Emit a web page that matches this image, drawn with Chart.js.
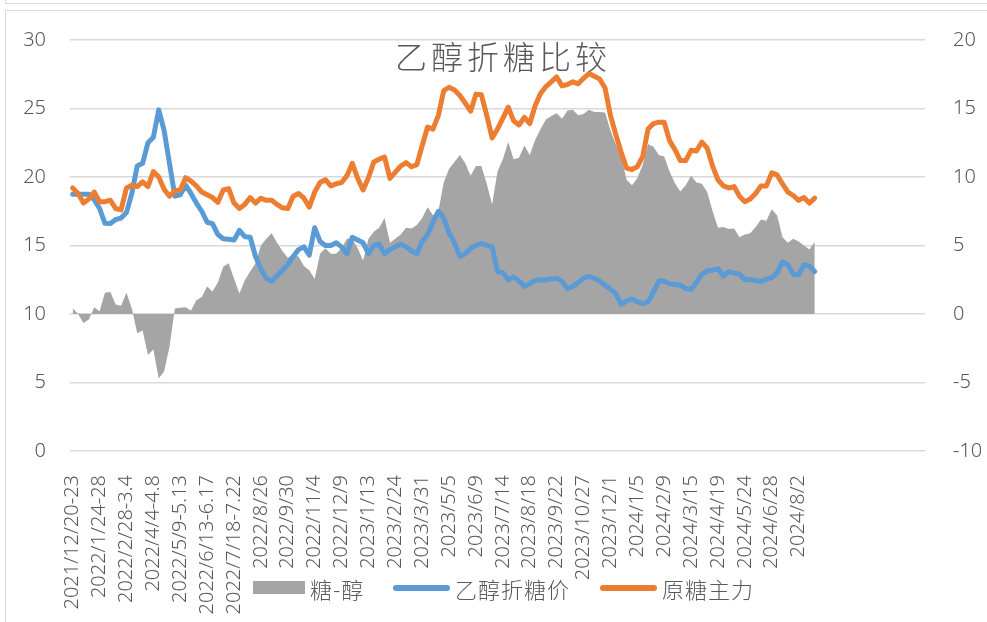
<!DOCTYPE html>
<html>
<head>
<meta charset="utf-8">
<script src="https://cdn.jsdelivr.net/npm/chart.js@4.4.1/dist/chart.umd.min.js"></script>
<style>
  body { margin: 0; background: #fff; }
  #wrap { position: relative; width: 987px; height: 622px; overflow: hidden; font-family: "Noto Sans CJK SC", "Noto Sans", sans-serif; color: #595959; }
  #frame { position: absolute; left: 5px; top: 10px; width: 1100px; height: 700px; border: 1px solid #d9d9d9; }
  #frameTop { position: absolute; left: 5px; top: -20px; width: 1100px; height: 22px; border: 1px solid #d9d9d9; }
  #title { position: absolute; left: 301px; width: 404px; top: 34px; text-align: center; font-size: 32px; font-weight: 300; line-height: 42px; letter-spacing: 4px; }
  .lg { position: absolute; }
  .lgText { position: absolute; top: 573px; font-size: 22px; font-weight: 300; line-height: 30px; letter-spacing: 1px; }
</style>
</head>
<body>
<div id="wrap">
  <div id="frameTop"></div>
  <div id="frame"></div>
  <canvas id="chart"></canvas>
  <div id="title">乙醇折糖比较</div>
  <div class="lg" style="left:253px;top:581px;width:52px;height:13px;background:#a5a5a5"></div>
  <div class="lgText" style="left:310px">糖-醇</div>
  <div class="lg" style="left:393px;top:585px;width:57px;height:6px;border-radius:3px;background:#5b9bd5"></div>
  <div class="lgText" style="left:455px">乙醇折糖价</div>
  <div class="lg" style="left:600px;top:585px;width:57px;height:6px;border-radius:3px;background:#ed7d31"></div>
  <div class="lgText" style="left:662px">原糖主力</div>
</div>
<script>
// 周度数据，每5周一个刻度标签
const tickLabels = [
  '2021/12/20-23', '2022/1/24-28', '2022/2/28-3.4', '2022/4/4-4.8', '2022/5/9-5.13',
  '2022/6/13-6.17', '2022/7/18-7.22', '2022/8/26', '2022/9/30', '2022/11/4',
  '2022/12/9', '2023/1/13', '2023/2/24', '2023/3/31', '2023/5/5', '2023/6/9',
  '2023/7/14', '2023/8/18', '2023/9/22', '2023/10/27', '2023/12/1', '2024/1/5',
  '2024/2/9', '2024/3/15', '2024/4/19', '2024/5/24', '2024/6/28', '2024/8/2'
];
const categoryCount = 159;

// 乙醇折糖价
const ethanolSugar = [
  18.74, 18.74, 18.74, 18.74, 18.35, 17.7, 16.62, 16.6, 16.9, 17.0,
  17.4, 18.8, 20.8, 21.0, 22.5, 22.9, 24.9, 23.4, 21.0, 18.6,
  18.7, 19.4, 18.8, 18.1, 17.5, 16.7, 16.6, 15.8, 15.5, 15.45,
  15.4, 16.1, 15.64, 15.6, 14.2, 13.3, 12.6, 12.4, 12.8, 13.2,
  13.6, 14.2, 14.7, 14.9, 14.3, 16.3, 15.3, 15.0, 15.0, 15.2,
  14.9, 14.4, 15.6, 15.4, 15.2, 14.4, 15.0, 15.1, 14.4, 14.7,
  14.9, 15.1, 14.9, 14.6, 14.4, 15.3, 15.8, 16.7, 17.5, 17.0,
  15.9, 15.2, 14.2, 14.4, 14.8, 15.0, 15.15, 15.0, 14.9, 13.1,
  13.0, 12.5, 12.7, 12.4, 12.0, 12.2, 12.45, 12.5, 12.48, 12.55,
  12.6, 12.4, 11.85, 12.0, 12.3, 12.6, 12.75, 12.6, 12.4, 12.1,
  11.8, 11.5, 10.7, 10.95, 11.1, 10.9, 10.75, 10.9, 11.6, 12.4,
  12.4, 12.2, 12.15, 12.1, 11.85, 11.8, 12.3, 12.9, 13.15, 13.2,
  13.3, 12.75, 13.1, 13.0, 12.9, 12.5, 12.5, 12.45, 12.35, 12.55,
  12.65, 13.0, 13.8, 13.6, 12.9, 12.85, 13.6, 13.5, 13.1
];

// 原糖主力
const rawSugar = [
  19.2, 18.8, 18.1, 18.4, 18.9, 18.2, 18.2, 18.3, 17.7, 17.6,
  19.2, 19.4, 19.3, 19.65, 19.3, 20.4, 20.0, 19.1, 18.6, 19.0,
  19.05, 19.95, 19.7, 19.35, 18.9, 18.7, 18.5, 18.15, 19.05, 19.15,
  18.1, 17.7, 18.0, 18.5, 18.1, 18.45, 18.3, 18.3, 18.0, 17.75,
  17.7, 18.6, 18.8, 18.45, 17.8, 18.9, 19.6, 19.8, 19.35, 19.5,
  19.6, 20.1, 21.0, 19.9, 19.05, 19.95, 21.1, 21.3, 21.45, 19.9,
  20.35, 20.8, 21.05, 20.75, 20.9, 22.3, 23.65, 23.5, 24.5, 26.3,
  26.55, 26.35, 25.95, 25.4, 24.8, 26.05, 26.0, 24.5, 22.85, 23.5,
  24.3, 25.1, 24.1, 23.8, 24.35, 23.9, 25.2, 26.1, 26.6, 26.95,
  27.3, 26.65, 26.75, 26.95, 26.8, 27.2, 27.55, 27.35, 27.15, 26.5,
  24.5, 23.1, 21.8, 20.65, 20.55, 20.75, 21.5, 23.5, 23.9, 24.0,
  24.0, 22.65, 22.0, 21.2, 21.2, 21.95, 21.9, 22.55, 22.1, 20.8,
  19.8, 19.35, 19.2, 19.3, 18.6, 18.2, 18.4, 18.8, 19.35, 19.35,
  20.3, 20.15, 19.5, 18.9, 18.65, 18.3, 18.5, 18.1, 18.45
];

// 糖-醇（右轴）
const spread = [
  0.42, 0.0, -0.65, -0.4, 0.5, 0.2, 1.55, 1.6, 0.7, 0.6,
  1.55, 0.4, -1.4, -1.2, -3.0, -2.6, -4.7, -4.2, -2.4, 0.4,
  0.45, 0.5, 0.25, 1.0, 1.25, 2.0, 1.65, 2.3, 3.45, 3.7,
  2.6, 1.5, 2.45, 3.1, 3.7, 5.0, 5.5, 5.9, 5.2, 4.6,
  4.1, 4.3, 4.2, 3.5, 3.2, 2.55, 4.4, 4.8, 4.4, 4.4,
  4.8, 5.5, 5.5, 4.8, 3.9, 5.5, 6.0, 6.3, 7.0, 5.2,
  5.5, 5.8, 6.3, 6.25, 6.5, 7.0, 7.8, 7.2, 7.5, 9.6,
  10.6, 11.1, 11.6, 11.0, 10.1, 10.8, 10.8, 9.5, 8.0, 10.4,
  11.3, 12.55, 11.3, 11.4, 12.3, 11.6, 12.7, 13.5, 14.2, 14.45,
  14.65, 14.25, 14.85, 14.9, 14.5, 14.6, 14.9, 14.75, 14.75, 14.7,
  13.4, 12.4, 11.5, 9.8, 9.4, 9.9, 10.9, 12.4, 12.2, 11.6,
  11.5, 10.4, 9.55, 8.95, 9.4, 10.1, 9.6, 9.5, 8.9, 7.5,
  6.3, 6.35, 6.2, 6.25, 5.6, 5.8, 5.9, 6.35, 6.9, 6.8,
  7.65, 7.2, 5.6, 5.2, 5.5, 5.3, 5.0, 4.7, 5.3
];

const labels = [];
for (let i = 0; i < categoryCount; i++) {
  labels.push(i % 5 === 0 && tickLabels[i / 5] ? tickLabels[i / 5] : '');
}

const tickFont = { family: 'Noto Sans', size: 20, weight: '300' };
const tickColor = '#595959';

new Chart(document.getElementById('chart'), {
  type: 'line',
  data: {
    labels: labels,
    datasets: [
      {
        label: '糖-醇',
        data: spread,
        yAxisID: 'y1',
        fill: 'origin',
        backgroundColor: '#a5a5a5',
        borderWidth: 0,
        pointRadius: 0,
        tension: 0,
        order: 3
      },
      {
        label: '乙醇折糖价',
        data: ethanolSugar,
        yAxisID: 'y',
        borderColor: '#5b9bd5',
        borderWidth: 5,
        borderJoinStyle: 'round',
        borderCapStyle: 'round',
        pointRadius: 0,
        fill: false,
        tension: 0,
        order: 2
      },
      {
        label: '原糖主力',
        data: rawSugar,
        yAxisID: 'y',
        borderColor: '#ed7d31',
        borderWidth: 5,
        borderJoinStyle: 'round',
        borderCapStyle: 'round',
        pointRadius: 0,
        fill: false,
        tension: 0,
        order: 1
      }
    ]
  },
  options: {
    responsive: true,
    maintainAspectRatio: false,
    animation: false,
    layout: { padding: { top: 40, left: 0, right: 0, bottom: 0 } },
    plugins: {
      legend: { display: false },
      title: { display: false },
      tooltip: { enabled: false }
    },
    scales: {
      x: {
        offset: true,
        grid: { display: false },
        border: { display: false },
        ticks: {
          autoSkip: false,
          minRotation: 90,
          maxRotation: 90,
          padding: 16,
          font: tickFont,
          color: tickColor
        },
        afterFit: s => { s.height = 171; }
      },
      y: {
        position: 'left',
        min: 0,
        max: 30,
        grid: { color: '#d9d9d9', lineWidth: 1.5, drawTicks: false },
        border: { display: false },
        ticks: { stepSize: 5, padding: 24, font: tickFont, color: tickColor },
        afterFit: s => { s.width = 70; }
      },
      y1: {
        position: 'right',
        min: -10,
        max: 20,
        grid: { display: false, drawOnChartArea: false },
        border: { display: false },
        ticks: { stepSize: 5, padding: 20, font: tickFont, color: tickColor },
        afterFit: s => { s.width = 62; }
      }
    }
  }
});
</script>
</body>
</html>
